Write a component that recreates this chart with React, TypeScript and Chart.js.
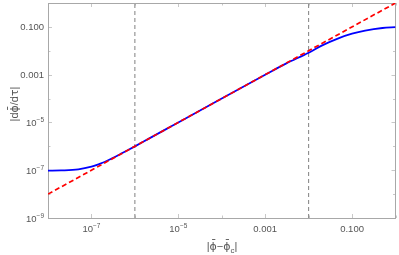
import React, { useEffect, useRef } from "react";
import { Chart, registerables } from "chart.js";

Chart.register(...registerables);

// ---- data ----
const blueX = [1e-8, 2e-8, 5e-8, 1e-7, 1.5e-7, 2e-7, 3e-7, 5e-7, 7e-7, 1e-6, 2e-6, 5e-6, 1e-5, 1e-4, 1e-3, 3e-3, 1e-2, 2e-2, 5e-2, 1e-1, 2e-1, 5e-1, 1];
const blueY = [9.6e-8, 9.8e-8, 1.08e-7, 1.4e-7, 1.8e-7, 2.2e-7, 3.15e-7, 5.1e-7, 7.05e-7, 1.0e-6, 2.0e-6, 5.0e-6, 1.0e-5, 1.0e-4, 9.9e-4, 2.9e-3, 8.3e-3, 1.65e-2, 3.4e-2, 5.2e-2, 7.0e-2, 9.0e-2, 9.8e-2];
const redX = [1e-8, 1];
const redY = [1e-8, 1];
const vlineX = [1e-6, 1e-2];
const xMin = 1e-8;
const xMax = 1;
const yMin = 1e-9;
const yMax = 1;
// tick labels: [base, exponent] ; exponent "" means plain text
const xTickValues = [1e-7, 1e-5, 1e-3, 1e-1];
const xTickLabels: [string, string][] = [["10", "\u22127"], ["10", "\u22125"], ["0.001", ""], ["0.100", ""]];
const yTickValues = [1e-9, 1e-7, 1e-5, 1e-3, 1e-1];
const yTickLabels: [string, string][] = [["10", "\u22129"], ["10", "\u22127"], ["10", "\u22125"], ["0.001", ""], ["0.100", ""]];

const TEXT = "#555";
const FONT = "'Liberation Sans', Arial, sans-serif";
const GREEK = "'DejaVu Sans', sans-serif";

type Seg = { t: string; font: string; dy?: number; bar?: boolean };

function drawSegs(ctx: CanvasRenderingContext2D, segs: Seg[], x: number, y: number, align: "left" | "center" | "right") {
  ctx.textAlign = "left";
  ctx.textBaseline = "alphabetic";
  const widths = segs.map((s) => {
    ctx.font = s.font;
    return ctx.measureText(s.t).width;
  });
  const total = widths.reduce((p, c) => p + c, 0);
  let cx = align === "left" ? x : align === "center" ? x - total / 2 : x - total;
  segs.forEach((s, i) => {
    ctx.font = s.font;
    ctx.fillText(s.t, cx, y + (s.dy || 0));
    if (s.bar) {
      ctx.save();
      ctx.strokeStyle = ctx.fillStyle as string;
      ctx.lineWidth = 0.9;
      const w = widths[i];
      ctx.beginPath();
      ctx.moveTo(cx + w * 0.35, y - 10.5);
      ctx.lineTo(cx + w * 0.8, y - 10.5);
      ctx.stroke();
      ctx.restore();
    }
    cx += widths[i];
  });
}

const framePlugin = {
  id: "frame",
  beforeDatasetsDraw(chart: any) {
    const { ctx, chartArea: a, scales } = chart;
    const xs = scales.x;
    const ys = scales.y;
    ctx.save();
    ctx.strokeStyle = "#c8c8c8";
    ctx.lineWidth = 1;
    const xe0 = Math.round(Math.log10(xMin));
    const xe1 = Math.round(Math.log10(xMax));
    for (let e = xe0; e <= xe1; e++) {
      const v = Math.pow(10, e);
      const major = xTickValues.some((t) => Math.abs(Math.log10(t) - e) < 1e-6);
      const len = major ? 4 : 2.5;
      const px = Math.round(xs.getPixelForValue(v)) + 0.5;
      ctx.beginPath();
      ctx.moveTo(px, a.bottom);
      ctx.lineTo(px, a.bottom - len);
      ctx.moveTo(px, a.top);
      ctx.lineTo(px, a.top + len);
      ctx.stroke();
    }
    const ye0 = Math.round(Math.log10(yMin));
    const ye1 = Math.round(Math.log10(yMax));
    for (let e = ye0; e <= ye1; e++) {
      const v = Math.pow(10, e);
      const major = yTickValues.some((t) => Math.abs(Math.log10(t) - e) < 1e-6);
      const len = major ? 4 : 2.5;
      const py = Math.round(ys.getPixelForValue(v)) + 0.5;
      ctx.beginPath();
      ctx.moveTo(a.left, py);
      ctx.lineTo(a.left + len, py);
      ctx.moveTo(a.right, py);
      ctx.lineTo(a.right - len, py);
      ctx.stroke();
    }
    ctx.strokeStyle = "#a8a8a8";
    ctx.strokeRect(Math.round(a.left) + 0.5, Math.round(a.top) + 0.5, Math.round(a.right - a.left) - 1, Math.round(a.bottom - a.top));
    ctx.restore();
  },
  afterDraw(chart: any) {
    const { ctx, chartArea: a, scales } = chart;
    ctx.save();
    ctx.fillStyle = TEXT;
    const base = `9.5px ${FONT}`;
    const sup = `6.5px ${FONT}`;
    // x tick labels
    xTickValues.forEach((v, i) => {
      const px = scales.x.getPixelForValue(v);
      const [b, e] = xTickLabels[i];
      const segs: Seg[] = [{ t: b, font: base }];
      if (e) segs.push({ t: e, font: sup, dy: -4 });
      drawSegs(ctx, segs, px, a.bottom + 14, "center");
    });
    // y tick labels
    yTickValues.forEach((v, i) => {
      const py = scales.y.getPixelForValue(v);
      const [b, e] = yTickLabels[i];
      const segs: Seg[] = [{ t: b, font: base }];
      if (e) segs.push({ t: e, font: sup, dy: -4 });
      drawSegs(ctx, segs, a.left - 4, py + 3.5, "right");
    });
    // x title |ϕ̄−ϕ̄c|
    const big = `11px ${FONT}`;
    const gk = `11px ${GREEK}`;
    drawSegs(
      ctx,
      [
        { t: "|", font: big },
        { t: "\u03D5", font: gk, bar: true },
        { t: "\u2212", font: big },
        { t: "\u03D5", font: gk, bar: true },
        { t: "c", font: `8px ${FONT}`, dy: 2.5 },
        { t: "|", font: big },
      ],
      222,
      250,
      "center"
    );
    // y title |dϕ̄/dτ|
    ctx.translate(18, 104);
    ctx.rotate(-Math.PI / 2);
    drawSegs(
      ctx,
      [
        { t: "|d", font: big },
        { t: "\u03D5", font: gk, bar: true },
        { t: "/d", font: big },
        { t: "\u03C4", font: gk },
        { t: "|", font: big },
      ],
      0,
      0,
      "center"
    );
    ctx.restore();
  },
};

export default function App() {
  const ref = useRef<HTMLCanvasElement>(null);
  useEffect(() => {
    if (!ref.current) return;
    const chart = new Chart(ref.current, {
      type: "line",
      data: {
        datasets: [
          {
            label: "red",
            data: redX.map((x, i) => ({ x, y: redY[i] })),
            borderColor: "#ff0000",
            borderWidth: 1.7,
            borderDash: [5, 3],
            pointRadius: 0,
            fill: false,
            order: 0,
          },
          {
            label: "blue",
            data: blueX.map((x, i) => ({ x, y: blueY[i] })),
            borderColor: "#0000ff",
            borderWidth: 1.8,
            pointRadius: 0,
            cubicInterpolationMode: "monotone",
            fill: false,
            order: 1,
          },
          ...vlineX.map((vx) => ({
            label: "v",
            data: [
              { x: vx, y: yMin },
              { x: vx, y: yMax },
            ],
            borderColor: "#808080",
            borderWidth: 1,
            borderDash: [4, 3],
            pointRadius: 0,
            fill: false,
            order: 2,
          })),
        ],
      } as any,
      options: {
        animation: false,
        responsive: false,
        layout: { padding: { top: 3, right: 3.5, left: 0, bottom: 0 } },
        plugins: { legend: { display: false }, tooltip: { enabled: false } },
        scales: {
          x: {
            type: "logarithmic",
            min: xMin,
            max: xMax,
            afterBuildTicks(scale: any) {
              scale.ticks = xTickValues.map((v) => ({ value: v }));
            },
            afterFit(scale: any) {
              scale.height = 37;
            },
            ticks: { display: false },
            grid: { display: false, drawTicks: false },
            border: { display: false },
          },
          y: {
            type: "logarithmic",
            min: yMin,
            max: yMax,
            afterBuildTicks(scale: any) {
              scale.ticks = yTickValues.map((v) => ({ value: v }));
            },
            afterFit(scale: any) {
              scale.width = 48;
            },
            ticks: { display: false },
            grid: { display: false, drawTicks: false },
            border: { display: false },
          },
        },
      } as any,
      plugins: [framePlugin],
    });
    return () => chart.destroy();
  }, []);
  return (
    <div style={{ position: "absolute", left: 0, top: 0, width: 399, height: 255, background: "#fff" }}>
      <canvas ref={ref} width={399} height={255} style={{ display: "block" }} />
    </div>
  );
}
